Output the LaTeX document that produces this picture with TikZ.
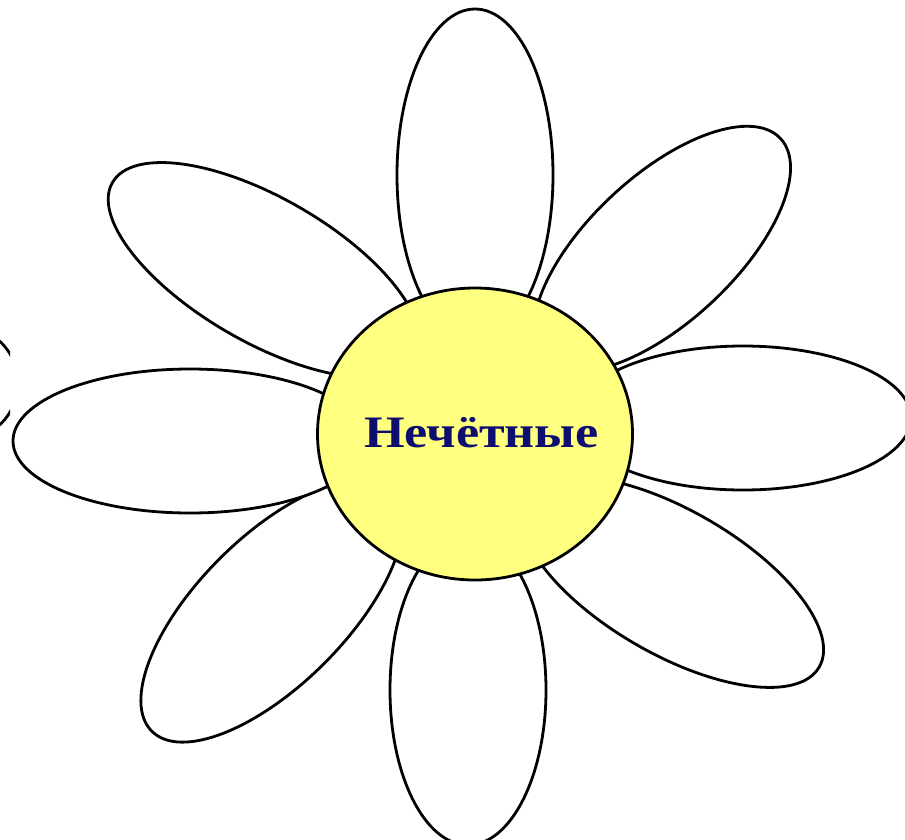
\documentclass[tikz,border=0pt]{standalone}
\usepackage{fontspec}
\usetikzlibrary{shapes.geometric}
\newfontfamily\petalfont{Liberation Serif}
\definecolor{centeryellow}{RGB}{255,255,128}
\definecolor{labelnavy}{RGB}{14,14,112}
\tikzset{
  petal/.style={draw=black, fill=white, line width=2.8pt},
  heart/.style={draw=black, fill=centeryellow, line width=2.8pt},
}
\begin{document}
\begin{tikzpicture}[x=1pt, y=-1pt]
  \fill[white] (0,0) rectangle (905,839);
  \clip (0,0) rectangle (905,839);
  % partial shape at the left edge
  \begin{scope}
    \clip (-5,300) rectangle (10,460);
    \draw[line width=2.8pt] (-39,383) circle [radius=57pt];
  \end{scope}
  % petals
  \draw[petal, rotate around={90:(475,175)}] (475,175) ellipse [x radius=166pt, y radius=78pt];
  \draw[petal, rotate around={43:(662,249)}] (662,249) ellipse [x radius=162pt, y radius=73pt];
  \draw[petal] (743,418) ellipse [x radius=168pt, y radius=72pt];
  \draw[petal, rotate around={-30:(672,582)}] (672,582) ellipse [x radius=170pt, y radius=72pt];
  \draw[petal, rotate around={90:(468,690)}] (468,690) ellipse [x radius=155pt, y radius=78pt];
  \draw[petal, rotate around={45:(272,611)}] (272,611) ellipse [x radius=170pt, y radius=74pt];
  \draw[petal] (190,441) ellipse [x radius=177pt, y radius=72pt];
  \draw[petal, rotate around={-30:(264,270)}] (264,270) ellipse [x radius=175pt, y radius=72pt];
  % centre
  \node[heart, ellipse, minimum width=315pt, minimum height=292pt, inner sep=0pt] (core) at (475,434) {};
  \node[anchor=base, inner sep=0pt, xscale=1.16, text=labelnavy, font=\petalfont\bfseries\fontsize{45}{48}\selectfont] (label) at (481.5,447) {Нечётные};
\end{tikzpicture}
\end{document}
